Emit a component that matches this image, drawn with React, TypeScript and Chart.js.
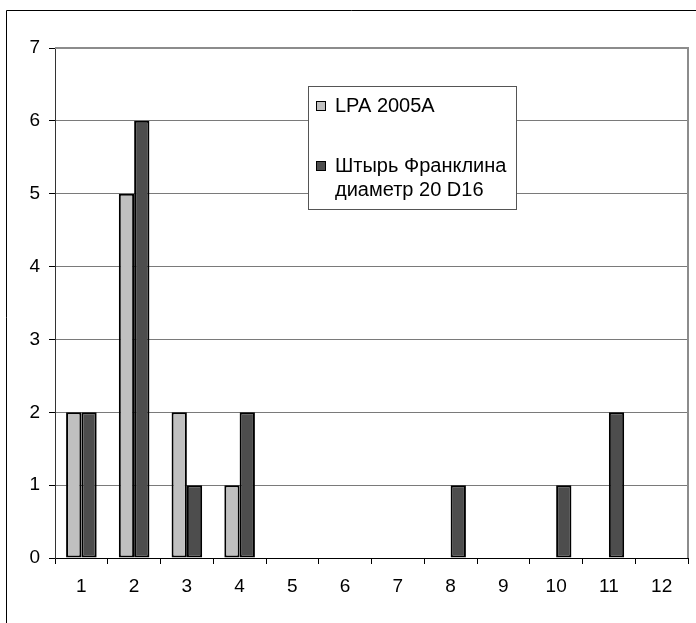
import React, { useEffect, useRef } from "react";
import { Chart, registerables } from "chart.js";

Chart.register(...registerables);

const categories = ["1", "2", "3", "4", "5", "6", "7", "8", "9", "10", "11", "12"];
const seriesNames = ["LPA 2005A", "Штырь Франклина диаметр 20 D16"];
const lpaValues = [2, 5, 2, 1, 0, 0, 0, 0, 0, 0, 0, 0];
const franklinValues = [2, 6, 1, 2, 0, 0, 0, 1, 0, 1, 2, 0];
const seriesColors = ["#C0C0C0", "#4D4D4D"];
const yMax = 7;

const FONT = "'Liberation Sans', Arial, sans-serif";

const framePlugin = {
  id: "framePlugin",
  beforeDraw(chart: any) {
    const ctx = chart.ctx;
    ctx.save();
    ctx.fillStyle = "#ffffff";
    ctx.fillRect(0, 0, chart.width, chart.height);
    ctx.strokeStyle = "#000000";
    ctx.lineWidth = 1;
    ctx.beginPath();
    ctx.moveTo(6.5, chart.height + 2);
    ctx.lineTo(6.5, 10.5);
    ctx.lineTo(chart.width + 2, 10.5);
    ctx.stroke();
    ctx.restore();
  },
  afterDatasetsDraw(chart: any) {
    const { ctx, chartArea } = chart;
    ctx.save();
    ctx.strokeStyle = "#8C8C8C";
    ctx.lineWidth = 2;
    ctx.beginPath();
    ctx.moveTo(chartArea.left, chartArea.top);
    ctx.lineTo(chartArea.right, chartArea.top);
    ctx.lineTo(chartArea.right, chartArea.bottom);
    ctx.stroke();
    ctx.restore();
  },
  afterDraw(chart: any) {
    const { ctx } = chart;
    const bx = 308, by = 86, bw = 208, bh = 123;
    ctx.save();
    ctx.fillStyle = "#ffffff";
    ctx.fillRect(bx, by, bw, bh);
    ctx.strokeStyle = "#555555";
    ctx.lineWidth = 1;
    ctx.strokeRect(bx + 0.5, by + 0.5, bw, bh);
    ctx.font = "20px " + FONT;
    ctx.textBaseline = "middle";
    ctx.fillStyle = "#000000";
    const itemTops = [106, 166];
    chart.data.datasets.forEach((ds: any, i: number) => {
      const words = String(ds.label).split(" ");
      const lines: string[] = [];
      let cur = "";
      words.forEach((w: string) => {
        const test = cur ? cur + " " + w : w;
        if (ctx.measureText(test).width > 178 && cur) {
          lines.push(cur);
          cur = w;
        } else {
          cur = test;
        }
      });
      if (cur) lines.push(cur);
      const y0 = itemTops[i];
      ctx.fillStyle = ds.backgroundColor;
      ctx.fillRect(316, y0 - 5, 10, 10);
      ctx.strokeStyle = "#000000";
      ctx.lineWidth = 1;
      ctx.strokeRect(316.5, y0 - 4.5, 9, 9);
      ctx.fillStyle = "#000000";
      lines.forEach((ln, k) => {
        ctx.fillText(ln, 335, y0 + k * 24);
      });
    });
    ctx.restore();
  },
};

export default function App() {
  const canvasRef = useRef<HTMLCanvasElement | null>(null);

  useEffect(() => {
    if (!canvasRef.current) return;
    const zeroAwareBorder = (c: any) => {
      const v = c.raw;
      return v === 0 ? 0 : 2;
    };
    const chart = new Chart(canvasRef.current, {
      type: "bar",
      data: {
        labels: categories,
        datasets: [
          {
            label: seriesNames[0],
            data: lpaValues,
            backgroundColor: seriesColors[0],
            borderColor: "#000000",
            borderWidth: zeroAwareBorder as any,
            borderSkipped: false,
            categoryPercentage: 0.58,
            barPercentage: 1,
          },
          {
            label: seriesNames[1],
            data: franklinValues,
            backgroundColor: seriesColors[1],
            borderColor: "#000000",
            borderWidth: zeroAwareBorder as any,
            borderSkipped: false,
            categoryPercentage: 0.58,
            barPercentage: 1,
          },
        ],
      },
      options: {
        animation: false,
        responsive: false,
        maintainAspectRatio: false,
        devicePixelRatio: 1,
        layout: { padding: { left: 0, top: 48, right: 8, bottom: 0 } },
        plugins: {
          legend: { display: false },
          tooltip: { enabled: false },
          title: { display: false },
        },
        scales: {
          x: {
            grid: {
              offset: true,
              drawOnChartArea: false,
              drawTicks: true,
              tickLength: 6,
              tickColor: "#000000",
            },
            border: { display: true, color: "#000000", width: 1 },
            ticks: {
              color: "#000000",
              font: { size: 19, family: FONT },
              padding: 11,
              maxRotation: 0,
              autoSkip: false,
            },
            afterFit(scale: any) {
              scale.height = 65;
            },
          },
          y: {
            min: 0,
            max: yMax,
            grid: {
              color: "#7A7A7A",
              lineWidth: 1,
              drawTicks: true,
              tickLength: 6,
              tickColor: "#000000",
            },
            border: { display: true, color: "#333333", width: 1 },
            ticks: {
              stepSize: 1,
              color: "#000000",
              font: { size: 19, family: FONT },
              padding: 9,
            },
            afterFit(scale: any) {
              scale.width = 55;
            },
          },
        },
      },
      plugins: [framePlugin],
    });
    return () => chart.destroy();
  }, []);

  return (
    <div style={{ position: "fixed", left: 0, top: 0, width: 696, height: 623, background: "#fff" }}>
      <canvas ref={canvasRef} width={696} height={623} style={{ display: "block", width: 696, height: 623 }} />
    </div>
  );
}
